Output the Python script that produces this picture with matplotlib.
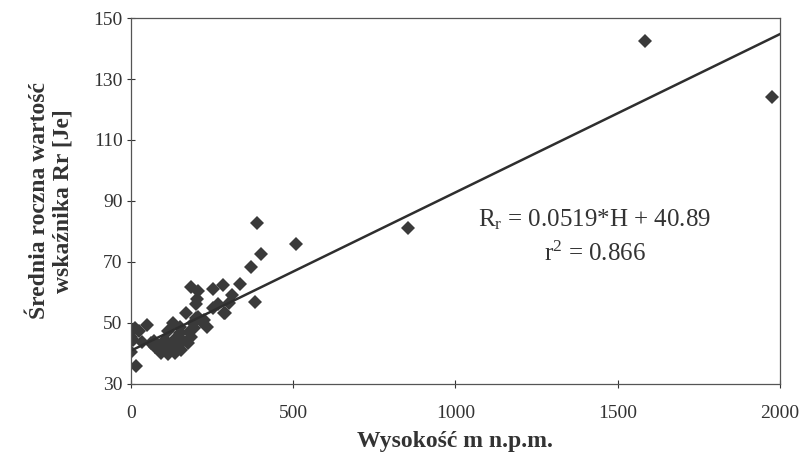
import numpy as np
import matplotlib
matplotlib.use("Agg")
import matplotlib.pyplot as plt

plt.rcParams['font.family'] = ['Liberation Serif', 'DejaVu Serif']
plt.rcParams['mathtext.fontset'] = 'custom'
plt.rcParams['mathtext.rm'] = 'Liberation Serif'
plt.rcParams['mathtext.it'] = 'Liberation Serif'

# wysokosc [m n.p.m.] i srednia roczna wartosc Rr
height = [1585, 1976, 855, 508, 390, 400, 371, 335, 284, 254,
          186, 208, 204, 201, 313, 303, 267, 382, 290, 236,
          170, 206, 129, 50, 12, 0, 0, 7, 0, 17,
          33, 63, 84, 94, 114, 135, 155, 175, 186, 196,
          216, 150, 114, 104, 135, 150, 201, 252, 287, 75,
          100, 120, 160, 180, 140, 90, 70, 190, 225, 25]
rr = [142.5, 124.0, 81.0, 75.8, 82.7, 72.5, 68.4, 62.7, 62.5, 61.0,
      61.7, 60.6, 57.8, 56.2, 59.0, 56.5, 56.2, 57.0, 53.4, 48.7,
      53.2, 52.0, 50.0, 49.2, 48.5, 47.2, 45.5, 44.4, 40.6, 35.8,
      43.9, 43.3, 41.7, 40.0, 39.7, 40.0, 41.0, 43.3, 45.5, 48.3,
      50.5, 46.6, 47.2, 44.4, 43.3, 48.8, 51.5, 54.8, 53.2, 42.0,
      43.0, 41.5, 44.0, 47.0, 45.0, 42.5, 44.0, 50.0, 51.0, 47.5]

slope = 0.0519
intercept = 40.89
r2 = 0.866

fig = plt.figure(figsize=(8.08, 4.62), dpi=100)
ax = fig.add_axes([0.162, 0.169, 0.803, 0.792])

ax.plot(height, rr, linestyle='none', marker='D', markersize=7,
        color='#3a3a3a', markeredgewidth=0)

xs = np.array([0, 2000])
ax.plot(xs, slope * xs + intercept, color='#2e2e2e', linewidth=1.8)

ax.set_xlim(0, 2000)
ax.set_ylim(30, 150)
ax.set_xticks([0, 500, 1000, 1500, 2000])
ax.set_yticks([30, 50, 70, 90, 110, 130, 150])
ax.tick_params(direction='inout', length=6, width=0.8, labelsize=14,
               colors='#333333')
ax.tick_params(axis='x', pad=12)
ax.tick_params(axis='y', pad=3)
for s in ax.spines.values():
    s.set_color('#555555')
    s.set_linewidth(0.9)

ax.set_xlabel('Wysokość m n.p.m.', fontsize=17, fontweight='bold',
              labelpad=7, color='#333333')
ax.set_ylabel('Średnia roczna wartość\nwskaźnika Rr [Je]', fontsize=17,
              fontweight='bold', labelpad=14, color='#333333', linespacing=1.2)

ax.text(0.715, 0.448, r'R$_\mathrm{r}$ = 0.0519*H + 40.89', transform=ax.transAxes,
        ha='center', va='center', fontsize=18, color='#333333')
ax.text(0.715, 0.355, r'r$^\mathrm{2}$ = %.3f' % r2, transform=ax.transAxes,
        ha='center', va='center', fontsize=18, color='#333333')

fig.savefig('out.png', dpi=100)
